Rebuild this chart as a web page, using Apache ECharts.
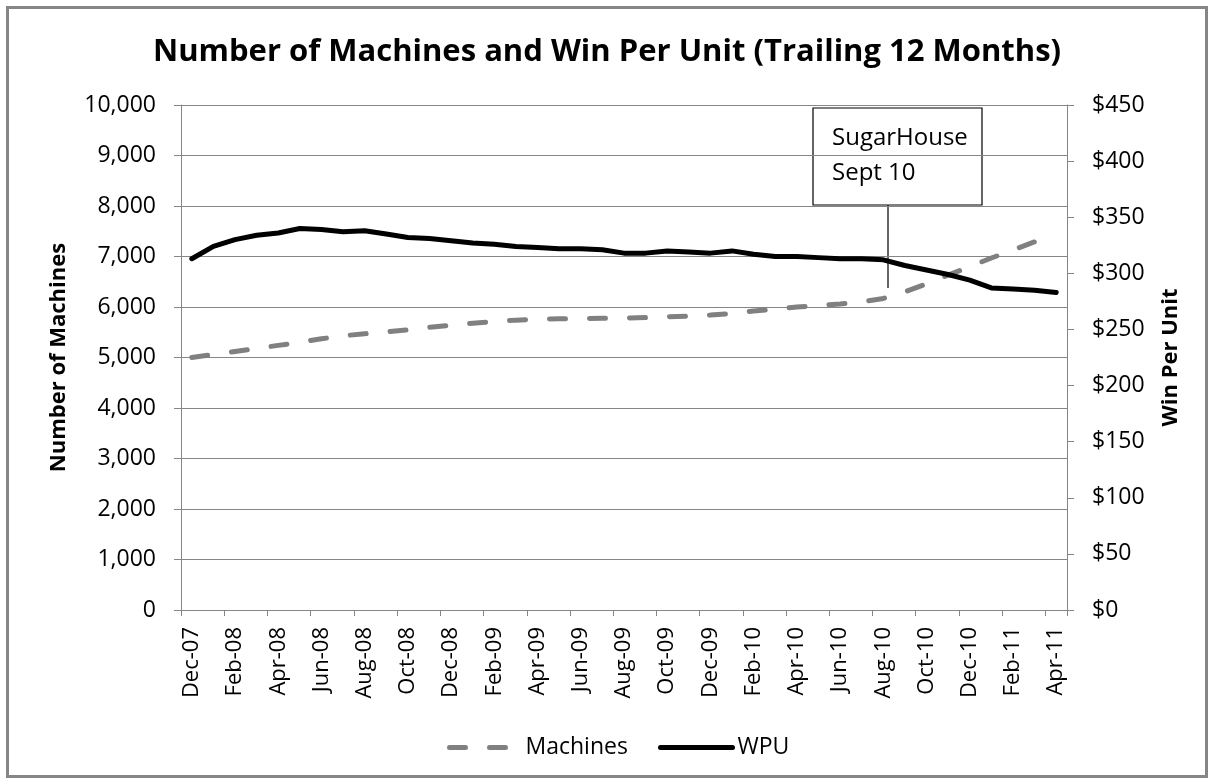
<!DOCTYPE html>
<html>
<head>
<meta charset="utf-8">
<script src="https://cdn.jsdelivr.net/npm/echarts@6/dist/echarts.min.js"></script>
<style>
html,body{margin:0;padding:0;background:#fff;}
#frame{position:absolute;left:6px;top:6px;width:1196px;height:766px;border:3px solid #868686;background:#fff;}
#chart{position:absolute;left:0;top:0;width:1214px;height:784px;}
</style>
</head>
<body>
<div id="frame"></div>
<div id="chart"></div>
<script>
const months = ["Dec-07","Jan-08","Feb-08","Mar-08","Apr-08","May-08","Jun-08","Jul-08","Aug-08","Sep-08","Oct-08","Nov-08",
"Dec-08","Jan-09","Feb-09","Mar-09","Apr-09","May-09","Jun-09","Jul-09","Aug-09","Sep-09","Oct-09","Nov-09",
"Dec-09","Jan-10","Feb-10","Mar-10","Apr-10","May-10","Jun-10","Jul-10","Aug-10","Sep-10","Oct-10","Nov-10",
"Dec-10","Jan-11","Feb-11","Mar-11","Apr-11"];
const machines = [5000,5060,5120,5180,5240,5300,5370,5430,5470,5510,5550,5600,
5640,5680,5710,5740,5760,5765,5770,5775,5780,5790,5805,5820,
5840,5870,5920,5960,6000,6030,6060,6100,6170,6300,6460,6630,
6800,6970,7130,7290,7430];
const wpu = [313,324,330,334,336,340,339,337,338,335,332,331,
329,327,326,324,323,322,322,321,318,318,320,319,
318,320,317,315,315,314,313,313,312,307,303,299,
294,287,286,285,283];
const leftTicks = {min:0, max:10000, interval:1000};
const rightTicks = {min:0, max:450, interval:50};
const titleText = "Number of Machines and Win Per Unit (Trailing 12 Months)";
const annotationLines = ["SugarHouse", "Sept 10"];

const FONT = "'Open Sans', 'Liberation Sans', sans-serif";
const GRAY = "#868686";
const chart = echarts.init(document.getElementById('chart'));
const legendCommon = {
  top: 731, itemHeight: 6,
  itemStyle: {opacity: 0},
  lineStyle: {width: 5},
  textStyle: {fontFamily: FONT, fontSize: 23, color: '#000'}
};
chart.setOption({
  backgroundColor: 'transparent',
  animation: false,
  title: {
    text: titleText, left: 'center', top: 32,
    textStyle: {fontFamily: FONT, fontSize: 31, fontWeight: 'bold', color: '#000'}
  },
  legend: [
    Object.assign({}, legendCommon, {left: 442, itemWidth: 63, data: ['Machines'],
      textStyle: Object.assign({}, legendCommon.textStyle, {padding: [0, 0, 0, 8]})}),
    Object.assign({}, legendCommon, {left: 653, itemWidth: 72, data: ['WPU']})
  ],
  grid: {left: 181, right: 147, top: 105, bottom: 174, containLabel: false},
  xAxis: {
    type: 'category', data: months, boundaryGap: true,
    axisLine: {lineStyle: {color: GRAY, width: 1}},
    axisTick: {show: true, interval: 1, length: 6, lineStyle: {color: GRAY}},
    axisLabel: {interval: 1, rotate: 90, fontFamily: FONT, fontSize: 22, color: '#000', margin: 17},
    splitLine: {show: false}
  },
  yAxis: [{
    type: 'value', position: 'left', min: leftTicks.min, max: leftTicks.max, interval: leftTicks.interval,
    name: 'Number of Machines', nameLocation: 'middle', nameRotate: 90, nameGap: 111,
    nameTextStyle: {fontFamily: FONT, fontSize: 22, fontWeight: 'bold', color: '#000'},
    axisLine: {show: true, lineStyle: {color: GRAY}},
    axisTick: {show: true, length: 7, lineStyle: {color: GRAY}},
    axisLabel: {fontFamily: FONT, fontSize: 23, color: '#000', margin: 25,
      formatter: v => v.toLocaleString('en-US')},
    splitLine: {show: true, lineStyle: {color: GRAY, width: 1}}
  }, {
    type: 'value', position: 'right', min: rightTicks.min, max: rightTicks.max, interval: rightTicks.interval,
    name: 'Win Per Unit', nameLocation: 'middle', nameRotate: 90, nameGap: 93,
    nameTextStyle: {fontFamily: FONT, fontSize: 22, fontWeight: 'bold', color: '#000'},
    axisLine: {show: true, lineStyle: {color: GRAY}},
    axisTick: {show: true, length: 7, lineStyle: {color: GRAY}},
    axisLabel: {fontFamily: FONT, fontSize: 23, color: '#000', margin: 25,
      formatter: v => '$' + v},
    splitLine: {show: false}
  }],
  series: [{
    name: 'Machines', type: 'line', yAxisIndex: 0, data: machines,
    symbol: 'none', smooth: false,
    lineStyle: {color: '#808080', width: 5, type: [16, 24], cap: 'round'},
    itemStyle: {color: '#808080'}
  }, {
    name: 'WPU', type: 'line', yAxisIndex: 1, data: wpu,
    symbol: 'none', smooth: false,
    lineStyle: {color: '#000', width: 5, cap: 'round', join: 'round'},
    itemStyle: {color: '#000'}
  }],
  graphic: [{
    type: 'rect', shape: {x: 813, y: 108, width: 169, height: 97},
    style: {fill: 'none', stroke: '#000', lineWidth: 1.2}
  }, {
    type: 'text', x: 832, y: 138,
    style: {text: annotationLines[0], font: "24px 'Open Sans', sans-serif", fill: '#000', verticalAlign: 'middle'}
  }, {
    type: 'text', x: 832, y: 173,
    style: {text: annotationLines[1], font: "24px 'Open Sans', sans-serif", fill: '#000', verticalAlign: 'middle'}
  }, {
    type: 'line', shape: {x1: 888, y1: 205, x2: 888, y2: 288},
    style: {stroke: '#000', lineWidth: 1.2}
  }]
});
</script>
</body>
</html>
